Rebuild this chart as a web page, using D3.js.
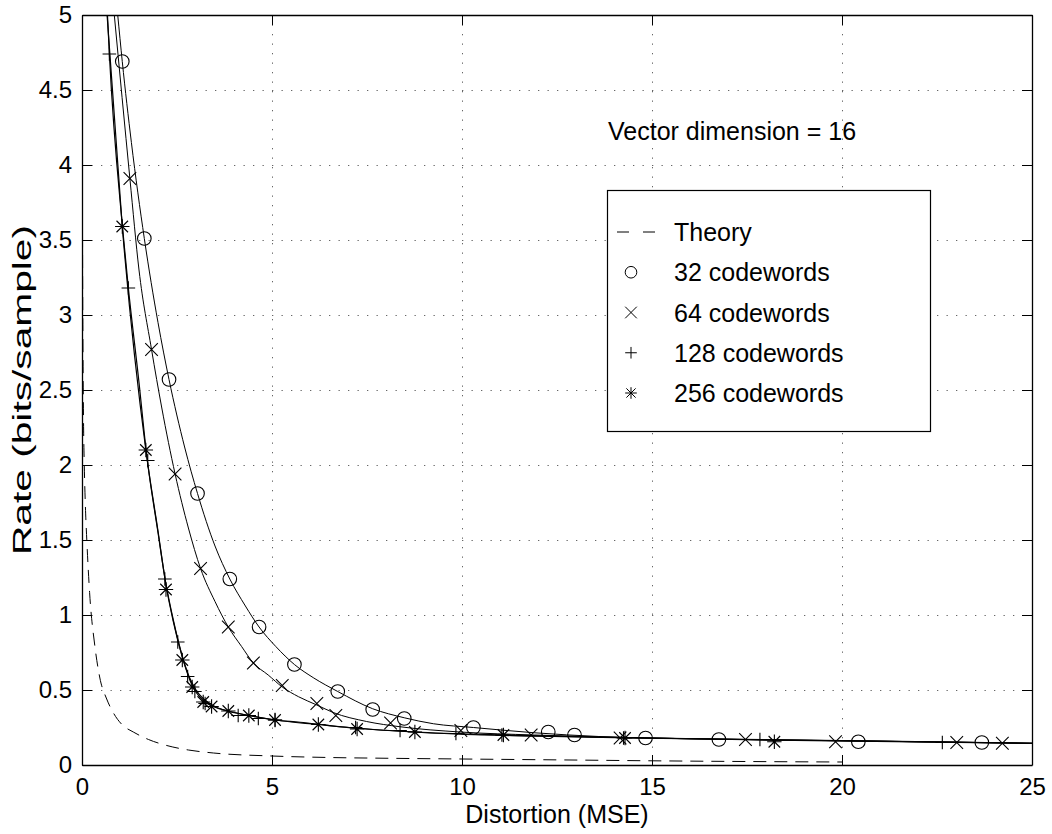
<!DOCTYPE html>
<html>
<head>
<meta charset="utf-8">
<script src="https://cdn.jsdelivr.net/npm/d3@7"></script>
<style>
  body { margin: 0; background: #fff; }
  svg text { font-family: "Liberation Sans", Arial, Helvetica, sans-serif; fill: #000; }
</style>
</head>
<body>
<svg id="chart" width="1052" height="834"></svg>
<script>
// Data: [distortion, rate]
const xTicks = [0, 5, 10, 15, 20, 25]
const yTicks = [0, 0.5, 1, 1.5, 2, 2.5, 3, 3.5, 4, 4.5, 5]

const theory = [[0.008, 4.1], [0.015, 3.4], [0.025, 2.8], [0.04, 2.3], [0.06, 2.0], [0.09, 1.72],
  [0.13, 1.48], [0.2, 1.15], [0.34, 0.79], [0.47, 0.58], [0.65, 0.44], [0.82, 0.35], [1.05, 0.27],
  [1.35, 0.22], [1.75, 0.17], [2.23, 0.13], [2.8, 0.1], [3.46, 0.08], [5, 0.06], [6.5, 0.05],
  [8, 0.045], [10, 0.04], [13, 0.033], [15, 0.028], [17, 0.024], [20, 0.02]]

const cw32 = [[1.06, 4.69], [1.64, 3.51], [2.29, 2.57], [3.04, 1.81], [3.89, 1.24], [4.66, 0.92],
  [5.59, 0.67], [6.73, 0.49], [7.65, 0.37], [8.48, 0.31], [10.30, 0.25], [12.27, 0.22],
  [12.96, 0.20], [14.83, 0.18], [16.76, 0.17], [20.43, 0.155], [23.68, 0.15]]
const cw64 = [[1.26, 3.91], [1.83, 2.77], [2.45, 1.94], [3.12, 1.31], [3.85, 0.92], [4.51, 0.68],
  [5.27, 0.53], [6.18, 0.41], [6.68, 0.33], [8.12, 0.28], [9.97, 0.23], [11.82, 0.20],
  [14.16, 0.18], [17.46, 0.17], [19.83, 0.155], [23.02, 0.15], [24.22, 0.145]]
const cw128 = [[0.72, 4.74], [1.22, 3.18], [1.73, 2.03], [2.18, 1.24], [2.52, 0.82], [2.78, 0.59],
  [2.97, 0.49], [3.24, 0.41], [4.11, 0.33], [4.64, 0.31], [5.08, 0.30], [7.20, 0.25], [8.37, 0.23],
  [9.84, 0.21], [11.05, 0.20], [14.25, 0.18], [17.84, 0.17], [22.64, 0.15]]
const cw256 = [[1.06, 3.59], [1.68, 2.10], [2.21, 1.17], [2.64, 0.70], [2.90, 0.52], [3.19, 0.42],
  [3.41, 0.39], [3.85, 0.36], [4.39, 0.33], [5.08, 0.30], [6.22, 0.27], [7.24, 0.24], [8.76, 0.22],
  [11.09, 0.20], [14.29, 0.18], [18.22, 0.155]]

// fitted curves drawn as solid lines
const fit32 = [[0.94, 5.0], [1.06, 4.69], [1.3, 4.15], [1.64, 3.51], [2.0, 2.95], [2.29, 2.57],
  [2.7, 2.12], [3.04, 1.81], [3.5, 1.46], [3.89, 1.24], [4.3, 1.06], [4.66, 0.92], [5.1, 0.79],
  [5.59, 0.67], [6.1, 0.58], [6.73, 0.49], [7.65, 0.375], [8.48, 0.315], [9.25, 0.275],
  [10.3, 0.25], [11.9, 0.215], [13.6, 0.19], [16, 0.175], [20, 0.162], [25, 0.145]]
const fit64 = [[0.85, 5.0], [1.26, 3.91], [1.5, 3.3], [1.83, 2.77], [2.1, 2.38], [2.45, 1.94],
  [2.8, 1.58], [3.12, 1.31], [3.5, 1.09], [3.85, 0.92], [4.2, 0.79], [4.51, 0.68], [4.9, 0.6],
  [5.27, 0.52], [5.7, 0.455], [6.18, 0.4], [6.61, 0.35], [7.49, 0.29], [8.37, 0.255],
  [9.95, 0.22], [11.9, 0.2], [13.6, 0.187], [16, 0.175], [20, 0.162], [25, 0.145]]
const fit128 = [[0.67, 5.0], [0.72, 4.74], [1.06, 3.6], [1.22, 3.18], [1.5, 2.55], [1.7, 2.07],
  [2.0, 1.55], [2.2, 1.22], [2.4, 0.97], [2.6, 0.76], [2.8, 0.6], [3.0, 0.5], [3.2, 0.44],
  [3.5, 0.39], [3.9, 0.355], [4.4, 0.33], [5.08, 0.30], [5.74, 0.285], [6.6, 0.26], [8.37, 0.225],
  [9.95, 0.205], [11.9, 0.193], [13.3, 0.185], [16, 0.175], [20, 0.162], [25, 0.145]]
const fit256 = [[0.66, 5.0], [1.06, 3.59], [1.68, 2.1], [2.0, 1.56], [2.21, 1.2], [2.4, 0.96],
  [2.64, 0.72], [2.9, 0.53], [3.19, 0.43], [3.5, 0.385], [3.85, 0.36], [4.39, 0.33], [5.08, 0.30],
  [6.22, 0.27], [7.24, 0.245], [8.76, 0.22], [11.09, 0.2], [14.29, 0.182], [18.22, 0.166], [25, 0.145]]

const legendLabels = ["Theory", "32 codewords", "64 codewords", "128 codewords", "256 codewords"]
const annotation = "Vector dimension = 16"

const svg = d3.select("#chart")
const plotLeft = 82, plotRight = 1032, plotTop = 15, plotBottom = 765

const x = d3.scaleLinear().domain([0, 25]).range([plotLeft, plotRight])
const y = d3.scaleLinear().domain([0, 5]).range([plotBottom, plotTop])

svg.append("defs").append("clipPath").attr("id", "plot-clip")
  .append("rect").attr("x", plotLeft).attr("y", plotTop)
  .attr("width", plotRight - plotLeft).attr("height", plotBottom - plotTop)

// dotted grid
const grid = svg.append("g").attr("stroke", "#666").attr("stroke-width", 1).attr("stroke-dasharray", "1.3,8.2")
grid.selectAll("line.gx").data(xTicks.slice(1, -1)).join("line")
  .attr("x1", d => Math.round(x(d)) + 0.5).attr("x2", d => Math.round(x(d)) + 0.5)
  .attr("y1", plotTop).attr("y2", plotBottom)
grid.selectAll("line.gy").data(yTicks.slice(1, -1)).join("line")
  .attr("x1", plotLeft).attr("x2", plotRight)
  .attr("y1", d => Math.round(y(d)) + 0.5).attr("y2", d => Math.round(y(d)) + 0.5)

// curves
const line = d3.line().x(d => x(d[0])).y(d => y(d[1])).curve(d3.curveMonotoneX)
const plot = svg.append("g").attr("clip-path", "url(#plot-clip)").attr("fill", "none").attr("stroke", "#000")

plot.append("path").datum(theory).attr("d", line).attr("stroke-width", 1).attr("stroke-dasharray", "13,8")
plot.append("path").datum(fit32).attr("d", line).attr("stroke-width", 1)
plot.append("path").datum(fit64).attr("d", line).attr("stroke-width", 1)
plot.append("path").datum(fit128).attr("d", line).attr("stroke-width", 1.2)
plot.append("path").datum(fit256).attr("d", line).attr("stroke-width", 1.2)

// marker shapes
const markerPath = {
  circle: s => `M${s},0A${s},${s} 0 1,1 ${-s},0A${s},${s} 0 1,1 ${s},0Z`,
  x: s => `M${-s},${-s}L${s},${s}M${-s},${s}L${s},${-s}`,
  plus: s => `M${-s},0L${s},0M0,${-s}L0,${s}`,
  star: s => {
    const d = s * 0.8
    return `M${-s},0L${s},0M0,${-s}L0,${s}M${-d},${-d}L${d},${d}M${-d},${d}L${d},${-d}`
  }
}

const series = [
  { data: cw32, shape: "circle", size: 6.8 },
  { data: cw64, shape: "x", size: 6.3 },
  { data: cw128, shape: "plus", size: 6.8 },
  { data: cw256, shape: "star", size: 7.2 }
]

series.forEach(s => {
  plot.append("g").selectAll("path").data(s.data).join("path")
    .attr("transform", d => `translate(${x(d[0])},${y(d[1])})`)
    .attr("d", markerPath[s.shape](s.size))
    .attr("stroke-width", 1.1)
})

// axes with inward ticks on all four sides
const tickFont = 24
const fmt = d => d3.format("")(d)
svg.append("g").attr("transform", `translate(0,${plotBottom})`)
  .call(d3.axisBottom(x).tickValues(xTicks).tickFormat(fmt).tickSizeInner(-10).tickSizeOuter(0).tickPadding(13))
svg.append("g").attr("transform", `translate(0,${plotTop})`)
  .call(d3.axisTop(x).tickValues(xTicks).tickFormat("").tickSizeInner(-10).tickSizeOuter(0))
svg.append("g").attr("transform", `translate(${plotLeft},0)`)
  .call(d3.axisLeft(y).tickValues(yTicks).tickFormat(fmt).tickSizeInner(-10).tickSizeOuter(0).tickPadding(10))
svg.append("g").attr("transform", `translate(${plotRight},0)`)
  .call(d3.axisRight(y).tickValues(yTicks).tickFormat("").tickSizeInner(-10).tickSizeOuter(0))

svg.selectAll(".domain").attr("stroke", "#000").attr("stroke-width", 1.3)
svg.selectAll(".tick line").attr("stroke", "#000").attr("stroke-width", 1)
svg.selectAll(".tick text").attr("font-size", tickFont).attr("font-family", null)

// axis titles (the y title is drawn long and narrow in the reference)
svg.append("text").attr("x", (plotLeft + plotRight) / 2).attr("y", 823)
  .attr("text-anchor", "middle").attr("font-size", 25).text("Distortion (MSE)")
svg.append("text").attr("transform", `translate(31,${(plotTop + plotBottom) / 2}) rotate(-90)`)
  .attr("text-anchor", "middle").attr("font-size", 25)
  .attr("textLength", 330).attr("lengthAdjust", "spacingAndGlyphs")
  .text("Rate (bits/sample)")

// annotation
svg.append("text").attr("x", 608).attr("y", 140).attr("font-size", 25).text(annotation)

// legend
const lg = svg.append("g")
lg.append("rect").attr("x", 607.5).attr("y", 190.5).attr("width", 323).attr("height", 241)
  .attr("fill", "#fff").attr("stroke", "#000").attr("stroke-width", 1.2)
const legendY = d3.scalePoint().domain(legendLabels).range([232, 393])
const legendShape = [null, "circle", "x", "plus", "star"]
legendLabels.forEach((lab, i) => {
  const ly = legendY(lab)
  if (i === 0) {
    lg.append("line").attr("x1", 617).attr("x2", 655).attr("y1", ly).attr("y2", ly)
      .attr("stroke", "#000").attr("stroke-dasharray", "12,14")
  } else {
    lg.append("path").attr("transform", `translate(631,${ly})`)
      .attr("d", markerPath[legendShape[i]](5.8)).attr("fill", "none").attr("stroke", "#000")
  }
  lg.append("text").attr("x", 674).attr("y", ly).attr("dy", "0.36em").attr("font-size", 25).text(lab)
})
</script>
</body>
</html>
